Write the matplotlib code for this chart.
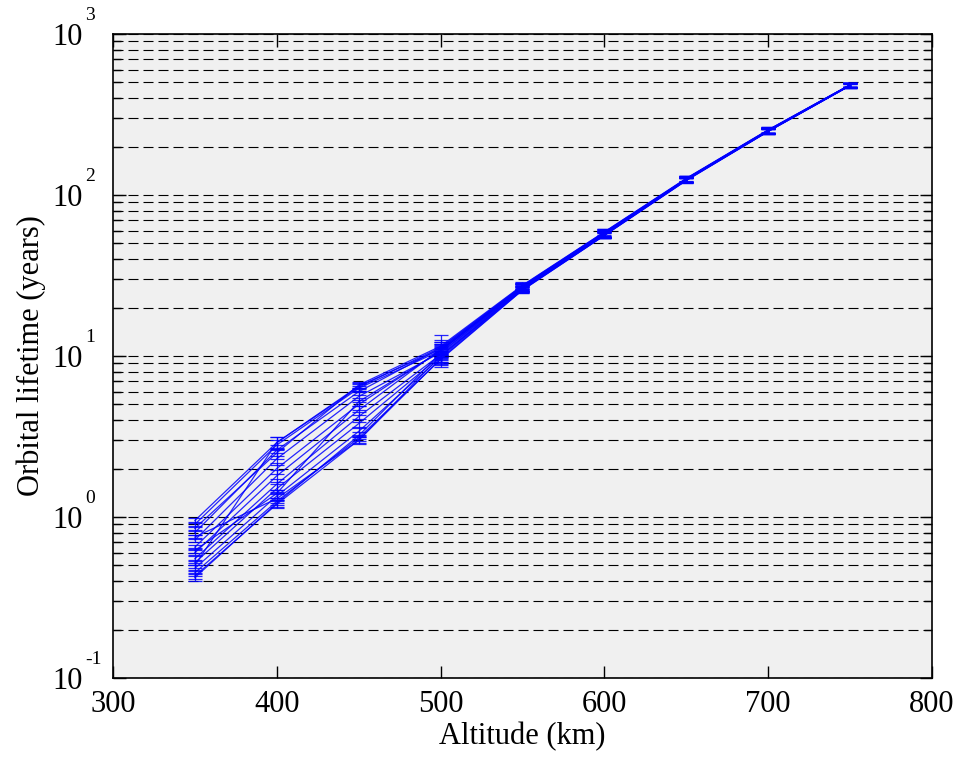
import matplotlib
matplotlib.use("Agg")
import matplotlib.pyplot as plt
from matplotlib.ticker import LogLocator, NullFormatter, FixedLocator

plt.rcParams["font.family"] = ["Liberation Serif", "DejaVu Serif"]

altitude_km = [350, 400, 450, 500, 550, 600, 650, 700, 750]

# Orbital lifetime (years) for each simulated case
lifetime_years = [
    [0.95, 2.90, 6.50, 11.0, 27.0, 58.0, 126, 252, 482],
    [0.90, 2.80, 6.30, 10.8, 26.8, 57.5, 125, 251, 481],
    [0.80, 2.60, 6.00, 11.2, 27.2, 58.5, 126, 253, 483],
    [0.72, 2.30, 5.60, 10.5, 26.5, 57.0, 125, 250, 480],
    [0.65, 2.00, 5.00, 10.8, 26.6, 57.2, 125, 251, 481],
    [0.60, 1.80, 4.60, 11.0, 26.9, 57.8, 126, 252, 482],
    [0.55, 1.60, 4.20, 10.2, 26.2, 56.8, 124, 250, 480],
    [0.52, 1.50, 3.80, 10.0, 26.0, 56.5, 124, 249, 479],
    [0.48, 1.35, 3.40, 9.80, 25.8, 56.2, 124, 249, 479],
    [0.45, 1.25, 3.10, 9.50, 25.6, 56.0, 123, 248, 478],
    [0.43, 1.20, 3.00, 9.60, 25.7, 56.1, 123, 248, 478],
    [0.42, 1.22, 3.20, 10.4, 26.3, 57.0, 125, 250, 480],
    [0.85, 2.50, 6.60, 11.5, 27.5, 59.0, 127, 254, 484],
    [0.75, 1.30, 3.00, 10.0, 26.0, 56.6, 124, 249, 479],
    [0.50, 2.90, 6.40, 11.3, 27.3, 58.8, 126, 253, 483],
    [0.62, 1.40, 5.20, 10.7, 26.7, 57.4, 125, 251, 481],
]

# Standard deviation (years) for each case
lifetime_err = [
    [0.03, 0.25, 0.30, 2.5, 1.5, 3.0, 5, 10, 15],
    [0.03, 0.20, 0.25, 1.0, 1.2, 2.5, 4, 9, 14],
    [0.03, 0.20, 0.30, 1.0, 1.3, 2.8, 5, 10, 15],
    [0.02, 0.20, 0.40, 0.8, 1.1, 2.5, 4, 9, 14],
    [0.02, 0.15, 0.35, 0.9, 1.2, 2.6, 4, 9, 14],
    [0.02, 0.15, 0.30, 0.9, 1.2, 2.7, 5, 10, 15],
    [0.02, 0.12, 0.30, 0.8, 1.1, 2.4, 4, 9, 14],
    [0.02, 0.10, 0.25, 0.8, 1.1, 2.4, 4, 9, 14],
    [0.02, 0.08, 0.20, 0.8, 1.0, 2.3, 4, 9, 14],
    [0.02, 0.06, 0.15, 0.7, 1.0, 2.3, 4, 9, 14],
    [0.02, 0.06, 0.12, 0.7, 1.0, 2.3, 4, 9, 14],
    [0.02, 0.06, 0.15, 0.8, 1.1, 2.5, 4, 9, 14],
    [0.03, 0.20, 0.30, 1.0, 1.3, 2.8, 5, 10, 15],
    [0.02, 0.08, 0.15, 0.8, 1.0, 2.4, 4, 9, 14],
    [0.02, 0.25, 0.30, 1.0, 1.3, 2.8, 5, 10, 15],
    [0.02, 0.08, 0.30, 0.9, 1.2, 2.6, 4, 9, 14],
]

x_ticks = [300, 400, 500, 600, 700, 800]
y_exponents = [-1, 0, 1, 2, 3]

fig = plt.figure(figsize=(9.63, 7.60), dpi=100)
ax = fig.add_axes([0.1173, 0.1079, 0.8505, 0.8474])
ax.set_facecolor("#f0f0f0")

for vals, errs in zip(lifetime_years, lifetime_err):
    ax.errorbar(altitude_km, vals, yerr=errs, color="#0000ff", lw=0.9,
                elinewidth=0.9, capsize=5, capthick=0.9, alpha=0.85)

ax.set_yscale("log")
ax.set_xlim(300, 800)
ax.set_ylim(0.1, 1000)
ax.xaxis.set_major_locator(FixedLocator(x_ticks))
ax.yaxis.set_major_locator(FixedLocator([10.0 ** e for e in y_exponents]))
ax.yaxis.set_minor_locator(LogLocator(base=10, subs=range(2, 10), numticks=20))
ax.yaxis.set_minor_formatter(NullFormatter())
# base "10" as the tick label, exponent written as a raised small number
ax.set_yticklabels(["10"] * len(y_exponents))
for e in y_exponents:
    ax.annotate(f"{e}", xy=(0, 10.0 ** e), xycoords=("axes fraction", "data"),
                xytext=(-20, 7), textcoords="offset points",
                ha="left", va="bottom", fontsize=14)

ax.grid(True, axis="y", which="both", color="black", lw=0.8,
        linestyle=(0, (9, 4.5)))
ax.set_axisbelow(True)

ax.tick_params(which="both", direction="in", top=True, right=True,
               labelsize=22, width=1.0)
ax.tick_params(axis="x", pad=9)
ax.tick_params(axis="y", pad=22)
ax.tick_params(which="major", length=9)
ax.tick_params(which="minor", length=6)
for sp in ax.spines.values():
    sp.set_linewidth(1.2)

ax.set_xlabel("Altitude (km)", fontsize=22, labelpad=2)
ax.set_ylabel("Orbital lifetime (years)", fontsize=22, labelpad=4)

fig.savefig("out.png", dpi=100, facecolor="white")
